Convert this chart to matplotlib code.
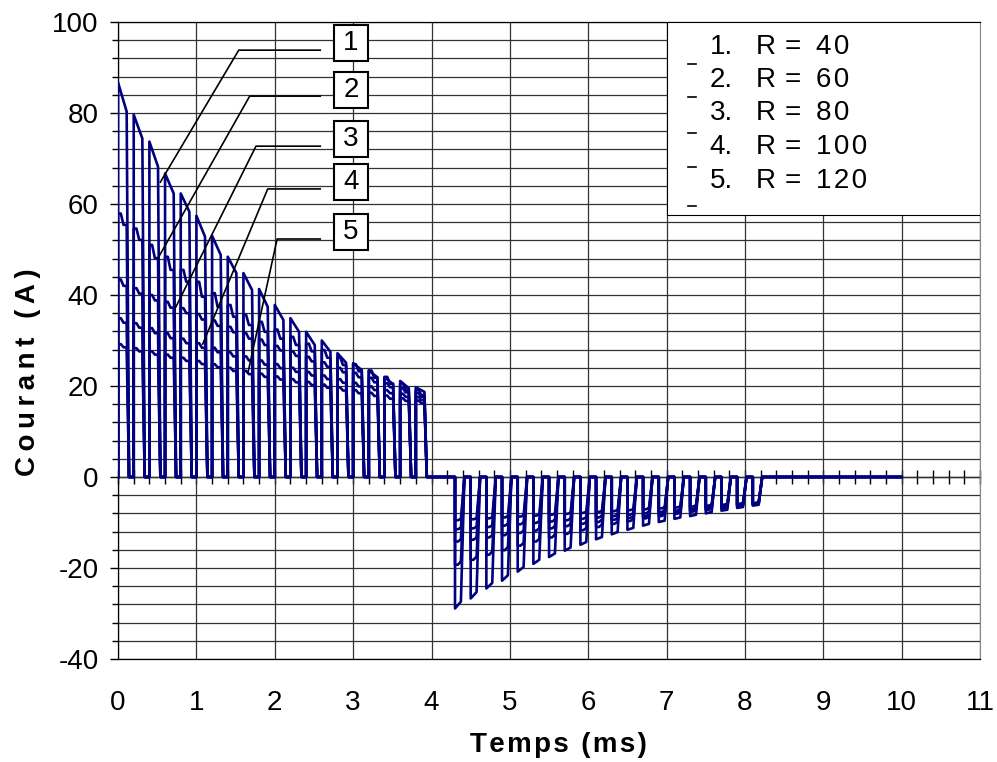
import matplotlib
matplotlib.use('Agg')
import matplotlib.pyplot as plt
from matplotlib.ticker import MultipleLocator
from matplotlib.patches import Rectangle

plt.rcParams['font.family'] = ['Liberation Sans', 'DejaVu Sans']
plt.rcParams['axes.unicode_minus'] = False

# pulse start times (ms)
pos_times = [0.0, 0.2, 0.4, 0.6, 0.8, 1.0, 1.2, 1.4, 1.6, 1.8,
             2.0, 2.2, 2.4, 2.6, 2.8, 3.0, 3.2, 3.4, 3.6, 3.8]
neg_times = [4.3, 4.5, 4.7, 4.9, 5.1, 5.3, 5.5, 5.7, 5.9, 6.1,
             6.3, 6.5, 6.7, 6.9, 7.1, 7.3, 7.5, 7.7, 7.9, 8.1]
t_stop = 10.0

# current at the start / end of each positive pulse (A)
s1_pos_start = [86.7, 79.6, 73.7, 66.7, 62.3, 57.4, 53.0, 48.4, 44.8, 41.3,
                37.8, 34.9, 31.9, 30.0, 27.2, 25.0, 23.4, 21.9, 21.1, 19.7]
s1_pos_end = [80.3, 74.4, 68.2, 62.3, 58.3, 52.8, 48.8, 44.8, 41.1, 37.4,
              34.5, 31.9, 29.0, 27.5, 25.1, 23.5, 21.9, 20.4, 19.5, 18.7]
s2_pos_start = [57.9, 54.6, 51.0, 48.4, 45.5, 42.9, 40.4, 37.8, 35.6, 34.1,
                32.4, 30.8, 29.3, 27.9, 26.3, 24.8, 23.4, 22.0, 20.6, 19.2]
s2_pos_end = [55.4, 52.1, 48.1, 45.5, 42.9, 39.6, 37.4, 35.2, 33.4, 31.9,
              30.4, 29.0, 27.6, 26.2, 24.6, 23.2, 21.8, 20.5, 19.2, 18.0]
s3_pos_start = [43.4, 41.5, 40.0, 38.5, 37.1, 35.8, 34.4, 33.0, 31.6, 30.2,
                28.8, 27.6, 26.4, 25.2, 24.0, 22.9, 21.8, 20.6, 19.5, 18.5]
s3_pos_end = [42.0, 40.3, 38.8, 37.2, 36.0, 34.6, 33.2, 31.8, 30.4, 29.0,
              27.8, 26.6, 25.4, 24.2, 23.0, 21.9, 20.8, 19.7, 18.6, 17.6]
s4_pos_start = [34.9, 33.8, 32.7, 31.6, 30.4, 29.4, 28.4, 27.4, 26.5, 25.6,
                24.8, 24.0, 23.1, 22.3, 21.5, 20.7, 19.9, 19.1, 18.3, 17.6]
s4_pos_end = [33.9, 32.8, 31.6, 30.5, 29.4, 28.4, 27.4, 26.5, 25.6, 24.7,
              23.9, 23.1, 22.3, 21.5, 20.7, 19.9, 19.1, 18.4, 17.6, 16.9]
s5_pos_start = [29.2, 28.3, 27.6, 26.9, 26.2, 25.5, 24.8, 24.0, 23.3, 22.7,
                22.1, 21.5, 20.9, 20.3, 19.7, 19.1, 18.5, 17.9, 17.3, 16.8]
s5_pos_end = [28.5, 27.6, 26.9, 26.2, 25.5, 24.8, 24.1, 23.3, 22.6, 22.0,
              21.4, 20.8, 20.2, 19.6, 19.0, 18.4, 17.8, 17.2, 16.7, 16.2]

# current at the start / end of each negative pulse (A)
s1_neg_start = [-28.9, -26.7, -24.5, -22.8, -20.8, -19.1, -17.6, -16.2, -14.9, -13.7,
                -12.6, -11.6, -10.7, -9.9, -9.2, -8.6, -8.0, -7.4, -6.8, -6.3]
s1_neg_end = [-27.4, -25.3, -23.3, -21.6, -19.8, -18.2, -16.8, -15.5, -14.3, -13.2,
              -12.1, -11.2, -10.3, -9.6, -8.9, -8.3, -7.7, -7.2, -6.6, -6.1]
s2_neg_start = [-19.3, -18.2, -17.1, -16.1, -15.1, -14.2, -13.3, -12.5, -11.7, -11.0,
                -10.3, -9.7, -9.1, -8.6, -8.1, -7.6, -7.2, -6.8, -6.4, -6.1]
s2_neg_end = [-18.7, -17.6, -16.5, -15.5, -14.6, -13.7, -12.8, -12.0, -11.3, -10.6,
              -9.9, -9.3, -8.8, -8.3, -7.8, -7.4, -7.0, -6.6, -6.2, -5.9]
s3_neg_start = [-14.2, -13.8, -13.3, -12.8, -12.3, -11.8, -11.3, -10.8, -10.3, -9.9,
                -9.4, -9.0, -8.6, -8.2, -7.8, -7.4, -7.0, -6.7, -6.3, -6.0]
s3_neg_end = [-13.8, -13.4, -12.9, -12.4, -11.9, -11.4, -10.9, -10.4, -10.0, -9.5,
              -9.1, -8.7, -8.3, -7.9, -7.5, -7.1, -6.8, -6.4, -6.1, -5.8]
s4_neg_start = [-11.5, -11.3, -11.0, -10.7, -10.4, -10.1, -9.8, -9.5, -9.2, -8.9,
                -8.6, -8.3, -8.0, -7.7, -7.4, -7.1, -6.8, -6.5, -6.2, -5.9]
s4_neg_end = [-11.2, -11.0, -10.7, -10.4, -10.1, -9.8, -9.5, -9.2, -8.9, -8.6,
              -8.3, -8.0, -7.7, -7.4, -7.1, -6.8, -6.5, -6.2, -6.0, -5.7]
s5_neg_start = [-9.5, -9.3, -9.1, -8.9, -8.7, -8.5, -8.3, -8.1, -7.9, -7.7,
                -7.5, -7.3, -7.1, -6.9, -6.7, -6.5, -6.3, -6.1, -5.9, -5.7]
s5_neg_end = [-9.3, -9.1, -8.9, -8.7, -8.5, -8.3, -8.1, -7.9, -7.7, -7.5,
              -7.3, -7.1, -6.9, -6.7, -6.5, -6.3, -6.1, -5.9, -5.7, -5.5]

resistances = [40, 60, 80, 100, 120]
series = [
    (s1_pos_start, s1_pos_end, s1_neg_start, s1_neg_end),
    (s2_pos_start, s2_pos_end, s2_neg_start, s2_neg_end),
    (s3_pos_start, s3_pos_end, s3_neg_start, s3_neg_end),
    (s4_pos_start, s4_pos_end, s4_neg_start, s4_neg_end),
    (s5_pos_start, s5_pos_end, s5_neg_start, s5_neg_end),
]

# callout labels: point on the curve, elbow point
tips = [(0.54, 64.8), (0.51, 48.1), (0.73, 37.1), (1.08, 29.2), (1.66, 23.1)]
elbows = [(1.54, 93.8), (1.68, 83.7), (1.76, 72.7), (1.91, 63.3), (2.03, 52.3)]
box_top = [99.3, 89.0, 78.2, 68.8, 57.8]


def pulses(times, starts, ends, on, fall, stepped):
    t, y = [], []
    for t0, a, b in zip(times, starts, ends):
        if stepped:
            t += [t0, t0, t0 + 0.035, t0 + 0.07, t0 + on, t0 + on + fall]
            y += [0, a, a, b, b, 0]
        else:
            t += [t0, t0, t0 + on, t0 + on + fall]
            y += [0, a, b, 0]
    return t, y


def spaced(s, sep='\u200a'):
    # the original labels are drawn with wide letter spacing
    return sep.join(s)


fig = plt.figure(figsize=(9.97, 7.62), dpi=100)
ax = fig.add_axes([0.1184, 0.1352, 0.8646, 0.8360])

navy = '#000080'
for i, (ps, pe, ns, ne) in enumerate(series):
    tp, yp = pulses(pos_times, ps, pe, 0.11, 0.03, i > 0)
    tn, yn = pulses(neg_times, ns, ne, 0.075, 0.045, i > 0)
    t = tp + tn + [t_stop]
    y = yp + yn + [0]
    ax.plot(t, y, color=navy, lw=1.9, zorder=4)

ax.set_xlim(0, 11)
ax.set_ylim(-40, 100)
ax.xaxis.set_major_locator(MultipleLocator(1))
ax.yaxis.set_major_locator(MultipleLocator(20))
ax.yaxis.set_minor_locator(MultipleLocator(4))
ax.grid(True, which='major', axis='x', color='#333333', lw=0.9)
ax.grid(True, which='both', axis='y', color='#333333', lw=0.9)
ax.set_axisbelow(True)

ax.tick_params(axis='x', which='both', length=0, pad=22, labelsize=20)
ax.tick_params(axis='y', which='major', length=6, width=1, direction='out', pad=8, labelsize=20)
ax.tick_params(axis='y', which='minor', length=4, width=1, direction='out')
for s in ['top', 'bottom', 'left']:
    ax.spines[s].set_color('black')
    ax.spines[s].set_linewidth(0.9)
ax.spines['right'].set_color('#888888')

# the time axis crosses at zero
zax = ax.secondary_xaxis(40 / 140)
zax.xaxis.set_major_locator(MultipleLocator(1))
zax.xaxis.set_minor_locator(MultipleLocator(0.2))
zax.tick_params(which='both', direction='inout', length=10, width=1, labelbottom=False)
zax.spines['bottom'].set_linewidth(1)

fig.text(0.56, 0.022, spaced('Temps (ms)'), fontsize=20, fontweight='bold',
         ha='center', va='center')
fig.text(0.028, 0.512, spaced('Courant (A)', '\u2009'), rotation=90, fontsize=20,
         fontweight='bold', ha='center', va='center')

# callouts
for i, ((tx, ty), (ex, ey)) in enumerate(zip(tips, elbows)):
    ax.plot([tx, ex, 2.58], [ty, ey, ey], color='black', lw=1.2, zorder=5)
    ax.add_patch(Rectangle((2.755, box_top[i] - 7.9), 0.434, 7.9, fc='white', ec='black',
                           lw=1.5, zorder=6))
    ax.text(2.755 + 0.217, box_top[i] - 3.95, str(i + 1), fontsize=20, ha='center',
            va='center', zorder=7)

# legend box
ax.add_patch(Rectangle((7.0, 57.6), 4.0, 42.4, fc='white', ec='black', lw=0.8, zorder=6))
rows = [94.5, 87.3, 80.0, 72.5, 65.1]
for i, r in enumerate(resistances):
    ax.text(7.55, rows[i], '%d.' % (i + 1), fontsize=20, va='center', zorder=7)
    ax.text(8.14, rows[i], 'R', fontsize=20, va='center', zorder=7)
    ax.text(8.50, rows[i], '=', fontsize=20, va='center', zorder=7)
    ax.text(8.91, rows[i], spaced(str(r)), fontsize=20, va='center', zorder=7)
for yy in [90.8, 83.5, 75.6, 68.1, 59.6]:
    ax.plot([7.27, 7.38], [yy, yy], color='black', lw=1.2, zorder=7)

fig.savefig('out.png', dpi=100)
